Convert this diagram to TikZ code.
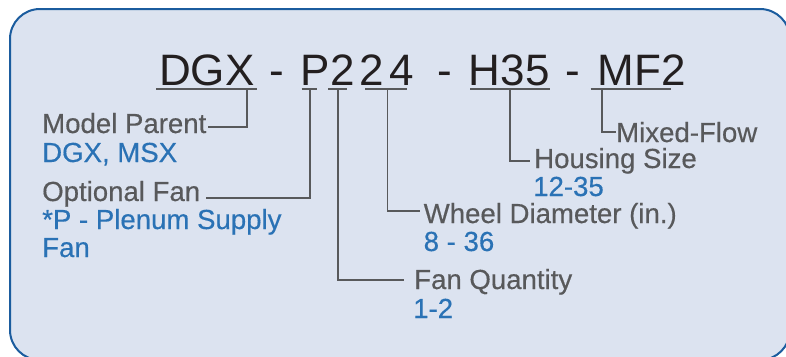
\documentclass[tikz,border=0pt]{standalone}
\usepackage{fontspec}
\setmainfont{Liberation Sans}
\newfontfamily\lblfont[FakeBold=0.4]{Liberation Sans}
\usetikzlibrary{calc}
\definecolor{codeblack}{HTML}{231F20}
\definecolor{labelgray}{HTML}{58595B}
\definecolor{valblue}{HTML}{2A72B5}
\definecolor{frameblue}{HTML}{1B5C9E}
\definecolor{panelfill}{HTML}{DCE3F0}

\begin{document}
\begin{tikzpicture}[x=1pt, y=-1pt,
        code/.style={inner sep=0pt, anchor=base, text=codeblack, font=\fontsize{44}{44}\selectfont},
        lbl/.style={inner sep=0pt, anchor=base west, text=labelgray, font=\lblfont\fontsize{27.6}{28}\selectfont},
        val/.style={lbl, text=valblue},
        uline/.style={draw=labelgray, line width=1.8pt},
        leader/.style={draw=labelgray, line width=1.8pt}]
        \useasboundingbox (0,0) rectangle (786,356);
        \draw[draw=frameblue, fill=panelfill, line width=2pt, rounded corners=30pt] (10,9) rectangle (790,360);

        \node[code] (dgx) at (206.8,85) {DGX};
        \node[code] (dash1) at (277,85) {-};
        \node[code] (opt) at (315.5,85) {P};
        \node[code] (qty) at (342.5,85) {2};
        \node[code] (whl) at (372.2,85) {2};
        \node[code] (whr) at (401.5,85) {4};
        \node[code] (dash2) at (445,85) {-};
        \node[code] (hsg) at (509.2,85) {H35};
        \node[code] (dash3) at (573,85) {-};
        \node[code] (mix) at (641.7,85) {MF2};

        \draw[uline] (156,89) -- (256.5,89);
        \draw[uline] (301.7,89) -- (316.7,89);
        \draw[uline] (328,89) -- (346.5,89);
        \draw[uline] (365,89) -- (406.7,89);
        \draw[uline] (470,89) -- (550,89);
        \draw[uline] (590.7,89) -- (670.7,89);

        \coordinate (kdgx) at (246.7,89);
        \coordinate (kopt) at (310,89);
        \coordinate (kqty) at (338,89);
        \coordinate (kwhl) at (387.5,89);
        \coordinate (khsg) at (510,89);
        \coordinate (kmix) at (601.7,89);

        \node[lbl] (parent) at (42,133) {Model Parent};
        \node[val] (parentv) at (42,162) {DGX, MSX};
        \node[lbl] (optfan) at (42,201) {Optional Fan};
        \node[val] (optfanv) at (42,229) {*P - Plenum Supply};
        \node[val] (optfanw) at (42,257) {Fan};
        \node[lbl] (wheel) at (423.5,223) {Wheel Diameter (in.)};
        \node[val] (wheelv) at (423.5,251) {8 - 36};
        \node[lbl] (fanqty) at (414,289) {Fan Quantity};
        \node[val] (fanqtyv) at (413,318) {1-2};
        \node[lbl] (housing) at (534,168) {Housing Size};
        \node[val] (housingv) at (533,196) {12-35};
        \node[lbl] (mixflow) at (616,142) {Mixed-Flow};

        \draw[leader] (kdgx) |- ([xshift=1pt, yshift=6pt]parent.base east);
        \draw[leader] (kopt) |- ([xshift=6pt, yshift=3pt]optfan.base east);
        \draw[leader] (kqty) |- ([xshift=-10pt, yshift=9pt]fanqty.base west);
        \draw[leader] (kwhl) |- ([xshift=-3.5pt, yshift=12pt]wheel.base west);
        \draw[leader] (khsg) |- ([xshift=-4pt, yshift=7pt]housing.base west);
        \draw[leader] (kmix) |- ([yshift=10pt]mixflow.base west);
    \end{tikzpicture}
\end{document}
